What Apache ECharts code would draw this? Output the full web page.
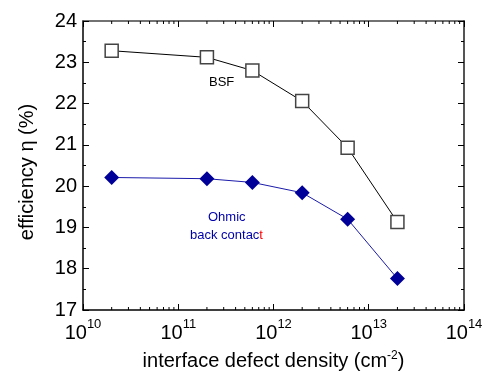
<!DOCTYPE html>
<html>
<head>
<meta charset="utf-8">
<script src="https://cdn.jsdelivr.net/npm/echarts@6/dist/echarts.min.js"></script>
<style>
  html, body { margin: 0; padding: 0; background: #fff; }
  #chart { width: 489px; height: 371px; }
</style>
</head>
<body>
<div id="chart"></div>
<script>
// Interface defect density (cm^-2)
const densities = [2e10, 2e11, 6e11, 2e12, 6e12, 2e13];
// Efficiency (%) with back surface field
const bsfEfficiency = [23.28, 23.12, 22.80, 22.06, 20.93, 19.13];
// Efficiency (%) with ohmic back contact
const ohmicEfficiency = [20.21, 20.18, 20.09, 19.84, 19.20, 17.76];
// Minor log ticks: 2..9 within each decade
const minorTickValues = [];
for (let e = 10; e < 14; e++) {
  for (let m = 2; m <= 9; m++) minorTickValues.push(m * Math.pow(10, e));
}

const chart = echarts.init(document.getElementById('chart'));
const font = 'Liberation Sans, Arial, sans-serif';

const supLabel = (v) => {
  const e = Math.round(Math.log10(v));
  return '{b|10}{s|' + e + '}';
};

chart.setOption({
  animation: false,
  grid: { left: 83, right: 25, top: 21, bottom: 61, outerBoundsMode: 'none', containLabel: false },
  xAxis: [{
    type: 'log', logBase: 10, min: 1e10, max: 1e14,
    position: 'bottom',
    axisLine: { lineStyle: { color: '#000', width: 1.5 } },
    axisTick: { inside: true, length: 6, lineStyle: { color: '#000', width: 1 } },
    splitLine: { show: false },
    axisLabel: {
      formatter: supLabel, margin: 8,
      rich: {
        b: { fontFamily: font, fontSize: 20, color: '#000', verticalAlign: 'bottom' },
        s: { fontFamily: font, fontSize: 13, color: '#000', verticalAlign: 'top', padding: [0, 0, 12, 0] }
      }
    },
    name: 'interface defect density (cm{s|-2})',
    nameLocation: 'middle', nameGap: 40,
    nameTextStyle: {
      fontFamily: font, fontSize: 20, color: '#000',
      rich: {
        s: { fontFamily: font, fontSize: 12, color: '#000', padding: [0, 0, 11, 0] }
      }
    }
  }, {
    type: 'log', logBase: 10, min: 1e10, max: 1e14,
    position: 'top',
    axisLine: { lineStyle: { color: '#444', width: 1.5 } },
    axisTick: { inside: true, length: 6, lineStyle: { color: '#000', width: 1 } },
    axisLabel: { show: false },
    splitLine: { show: false }
  }],
  yAxis: [{
    type: 'value', min: 17, max: 24, interval: 1,
    position: 'left',
    axisLine: { show: true, lineStyle: { color: '#000', width: 1.5 } },
    axisTick: { show: true, inside: true, length: 6, lineStyle: { color: '#000' } },
    minorTick: { show: true, splitNumber: 2, length: 3, lineStyle: { color: '#000' } },
    splitLine: { show: false },
    axisLabel: { fontFamily: font, fontSize: 20, color: '#000', margin: 6 }
  }, {
    type: 'value', min: 17, max: 24, interval: 1,
    position: 'right',
    axisLine: { show: true, lineStyle: { color: '#555', width: 2 } },
    axisTick: { show: true, inside: true, length: 6, lineStyle: { color: '#000' } },
    minorTick: { show: true, splitNumber: 2, length: 3, lineStyle: { color: '#000' } },
    splitLine: { show: false },
    axisLabel: { show: false }
  }],
  series: [{
    name: 'BSF',
    type: 'line',
    data: densities.map((d, i) => [d, bsfEfficiency[i]]),
    symbol: 'rect', symbolSize: 13,
    itemStyle: { color: '#fff', borderColor: '#444', borderWidth: 1.5 },
    lineStyle: { color: '#000', width: 1 },
    z: 3
  }, {
    name: 'Ohmic back contact',
    type: 'line',
    data: densities.map((d, i) => [d, ohmicEfficiency[i]]),
    symbol: 'diamond', symbolSize: 15,
    itemStyle: { color: '#000099', borderWidth: 0 },
    lineStyle: { color: '#1a1aaa', width: 1 },
    z: 3
  }, {
    // minor log ticks on bottom and top edges
    type: 'custom',
    silent: true,
    data: minorTickValues,
    renderItem: function (params, api) {
      const x = api.value(0);
      const b = api.coord([x, 17]);
      const t = api.coord([x, 24]);
      const style = { stroke: '#000', lineWidth: 1 };
      return {
        type: 'group',
        children: [
          { type: 'line', shape: { x1: b[0], y1: b[1], x2: b[0], y2: b[1] - 3 }, style: style },
          { type: 'line', shape: { x1: t[0], y1: t[1], x2: t[0], y2: t[1] + 3 }, style: style }
        ]
      };
    },
    encode: { x: 0 },
    clip: false,
    z: 1
  }],
  graphic: [{
    type: 'text', x: 27, y: 172, rotation: Math.PI / 2,
    style: {
      text: 'efficiency \u03b7 (%)', fontFamily: font, fontSize: 20, fill: '#000',
      align: 'center', verticalAlign: 'middle'
    }
  }, {
    type: 'text', left: 209, top: 76,
    style: { text: 'BSF', fontFamily: font, fontSize: 13, fill: '#000' }
  }, {
    type: 'text', left: 208, top: 211,
    style: { text: 'Ohmic', fontFamily: font, fontSize: 13, fill: '#0000aa' }
  }, {
    type: 'text', left: 190, top: 229,
    style: {
      text: '{a|back contac}{r|t}',
      rich: {
        a: { fontFamily: font, fontSize: 13, fill: '#0000aa' },
        r: { fontFamily: font, fontSize: 13, fill: '#ff0000' }
      }
    }
  }]
});
</script>
</body>
</html>
